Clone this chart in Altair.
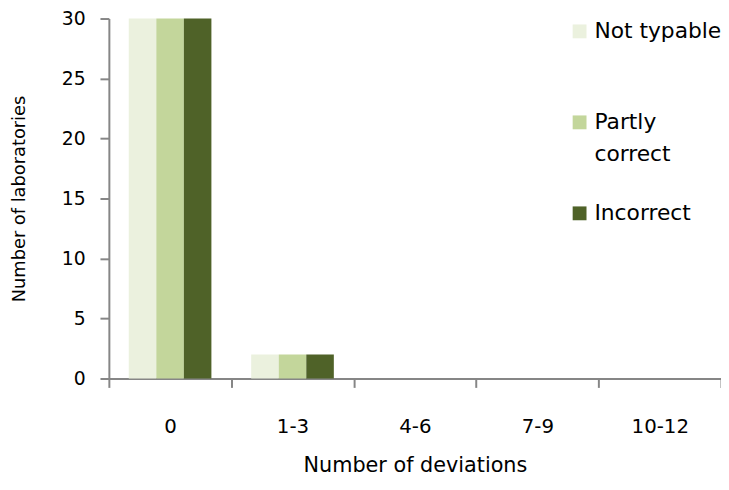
import altair as alt
import pandas as pd

categories = ["0", "1-3", "4-6", "7-9", "10-12"]
series = ["Not typable", "Partly correct", "Incorrect"]
not_typable = [30, 2, 0, 0, 0]
partly_correct = [30, 2, 0, 0, 0]
incorrect = [30, 2, 0, 0, 0]
colors = ["#ebf1de", "#c3d69b", "#4f6228"]
y_ticks = [0, 5, 10, 15, 20, 25, 30]

rows = []
for s, vals in zip(series, [not_typable, partly_correct, incorrect]):
    for c, v in zip(categories, vals):
        rows.append({"deviations": c, "series": s, "labs": v})
df = pd.DataFrame(rows)

FONT = "DejaVu Sans"
AX = "#868686"

label_expr = (
    "datum.label == 'Partly correct' ? ['Partly', 'correct'] : [datum.label, '']"
)

chart = alt.Chart(df).mark_bar().encode(
    x=alt.X(
        "deviations:N",
        sort=categories,
        scale=alt.Scale(paddingInner=0, paddingOuter=0),
        axis=alt.Axis(
            title="Number of deviations",
            labelAngle=0,
            tickBand="extent",
            labelPadding=30,
            titlePadding=18,
            labelFontSize=20,
            titleFontSize=21,
        ),
    ),
    xOffset=alt.XOffset(
        "series:N", sort=series, scale=alt.Scale(paddingInner=0, paddingOuter=0.722)
    ),
    y=alt.Y(
        "labs:Q",
        scale=alt.Scale(domain=[0, 30]),
        axis=alt.Axis(
            title="Number of laboratories",
            values=y_ticks,
            labelPadding=15,
            titlePadding=33,
            labelFontSize=19,
            titleFontSize=18,
            grid=False,
        ),
    ),
    color=alt.Color(
        "series:N",
        sort=series,
        scale=alt.Scale(domain=series, range=colors),
        legend=alt.Legend(
            title=None,
            orient="none",
            legendX=465,
            legendY=2,
            symbolType="square",
            symbolSize=196,
            symbolStrokeWidth=0,
            labelFontSize=22,
            labelFont=FONT,
            labelColor="#000000",
            labelOffset=4,
            labelLimit=300,
            rowPadding=38,
            padding=0,
            labelExpr=label_expr,
        ),
    ),
).properties(
    width=619,
    height=364,
    autosize=alt.AutoSizeParams(type="none"),
    padding={"left": 102, "top": 8, "right": 0, "bottom": 100},
).configure(
    style={"guide-label": {"lineHeight": 32}}
).configure_view(stroke=None).configure_axis(
    labelFont=FONT,
    titleFont=FONT,
    labelColor="#000000",
    titleColor="#000000",
    titleFontWeight="normal",
    domainColor=AX,
    domainWidth=2,
    tickColor=AX,
    tickWidth=2,
    tickSize=9,
    grid=False,
)

chart.save("out.html", embed_options={"renderer": "svg", "actions": False})
